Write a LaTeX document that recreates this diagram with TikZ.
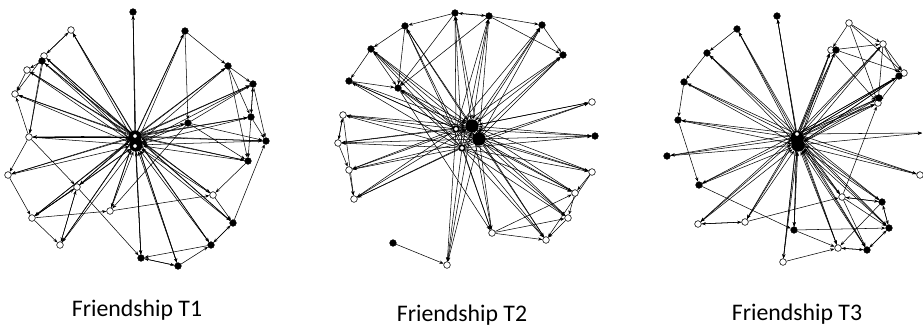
\documentclass[tikz,border=0pt]{standalone}
\usepackage{fontspec}
\setmainfont{Carlito}
\usetikzlibrary{arrows.meta}

\pgfdeclarelayer{bg}
\pgfsetlayers{bg,main}

\tikzset{
  wnode/.style={circle, draw=black, fill=white, line width=0.5pt, inner sep=0pt, minimum size=2mm},
  bnode/.style={circle, draw=black, fill=black, inner sep=0pt, minimum size=2mm},
  hubw/.style={circle, draw=black, fill=white, line width=1.4pt, inner sep=0pt, minimum size=1.7mm},
  hubb/.style={circle, fill=black, inner sep=0pt, minimum size=4mm},
  lnk/.style={-{Stealth[length=3.6pt,width=2.7pt]}, line width=0.45pt},
  caption/.style={font=\fontsize{20.3}{24}\selectfont, anchor=base}
}

\begin{document}
\begin{tikzpicture}[x=0.03cm, y=-0.03cm]
	\useasboundingbox (0,0) rectangle (923,326);

	% ---- friendship T1 ----
	\node[bnode] (t1top) at (133,12) {};
	\node[wnode] (t1a) at (71,30) {};
	\node[wnode] (t1b) at (44,56) {};
	\node[bnode] (t1c) at (42,61) {};
	\node[wnode] (t1d) at (27,70) {};
	\node[wnode] (t1e) at (15,94) {};
	\node[wnode] (t1f) at (29,137) {};
	\node[wnode] (t1g) at (8,175) {};
	\node[wnode] (t1h) at (77,187) {};
	\node[wnode] (t1i) at (32,218) {};
	\node[wnode] (t1j) at (60,245) {};
	\node[wnode] (t1k) at (110,211) {};
	\node[bnode] (t1l) at (141,258) {};
	\node[bnode] (t1m) at (178,266) {};
	\node[bnode] (t1n) at (211,245) {};
	\node[bnode] (t1o) at (233,223) {};
	\node[wnode] (t1p) at (213,195) {};
	\node[bnode] (t1q) at (248,161) {};
	\node[bnode] (t1r) at (266,141) {};
	\node[bnode] (t1s) at (251,117) {};
	\node[bnode] (t1t) at (253,84) {};
	\node[bnode] (t1u) at (228,66) {};
	\node[bnode] (t1v) at (185,31) {};
	\node[bnode] (t1w) at (188,123) {};
	% hubs
	\node[hubb] (t1k1) at (135,137) {};
	\node[hubb] (t1k2) at (136,145) {};
	\node[hubw] (t1h1) at (135,136) {};
	\node[hubw] (t1h2) at (135,146) {};
	\begin{pgfonlayer}{bg}
	\foreach \p in {top,a,b,c,d,e,f,g,h,i,j,k,l,m,n,o,p,q,r,s,t,u,v,w} {
		\draw[lnk] (t1h1) -- (t1\p);
		\draw[lnk] (t1\p) -- (t1k2);
		\draw[lnk] (t1k1) -- (t1\p);
	}
	\foreach \u/\v in {a/b, b/a, c/d, d/e, b/e, f/e, c/f, b/f, f/g, f/h, g/i, h/i, i/j, h/j, i/k,
		k/p, h/l, l/m, m/l, n/l, m/n, n/o, o/n, o/r, q/p, v/u, v/w, u/t, u/q, t/r, s/r, u/s,
		t/s, s/t, w/r, w/q, w/t, s/q, w/k, i/h, j/h, p/o}
		\draw[lnk] (t1\u) -- (t1\v);
	\end{pgfonlayer}

	% ---- friendship T2 ----
	\node[bnode] (t2a) at (455,13) {};
	\node[bnode] (t2b) at (489,16) {};
	\node[bnode] (t2c) at (542,25) {};
	\node[bnode] (t2d) at (563,55) {};
	\node[bnode] (t2e) at (405,26) {};
	\node[bnode] (t2f) at (371,49) {};
	\node[bnode] (t2g) at (349,81) {};
	\node[bnode] (t2h) at (398,88) {};
	\node[wnode] (t2i) at (592,102) {};
	\node[bnode] (t2j) at (595,136) {};
	\node[wnode] (t2k) at (592,172) {};
	\node[wnode] (t2l) at (575,193) {};
	\node[wnode] (t2m) at (568,218) {};
	\node[wnode] (t2n) at (546,240) {};
	\node[wnode] (t2o) at (492,233) {};
	\node[wnode] (t2p) at (447,265) {};
	\node[bnode] (t2q) at (393,243) {};
	\node[wnode] (t2r) at (354,199) {};
	\node[wnode] (t2s) at (349,170) {};
	\node[wnode] (t2t) at (338,143) {};
	\node[wnode] (t2u) at (343,115) {};
	% hubs
	\node[hubb] (t2k1) at (472,126) {};
	\node[hubb] (t2k2) at (479,139) {};
	\node[hubw] (t2h1) at (456,129) {};
	\node[hubw] (t2h2) at (462,148) {};
	\begin{pgfonlayer}{bg}
	\foreach \p in {a,b,c,d,e,f,g,h,i,j,k,l,m,n,o,p,r,s,t,u} {
		\draw[lnk] (t2h1) -- (t2\p);
		\draw[lnk] (t2\p) -- (t2k1);
		\draw[lnk] (t2h2) -- (t2\p);
		\draw[lnk] (t2k2) -- (t2\p);
	}
	\foreach \u/\v in {a/b, b/a, a/e, b/c, c/d, b/d, e/f, f/g, f/h, g/h, e/h, a/h, b/h,
		u/t, t/u, t/s, s/r, u/r, k/l, k/n, l/m, m/n, o/n, o/l, o/m, q/p, h/o}
		\draw[lnk] (t2\u) -- (t2\v);
	\end{pgfonlayer}

	% ---- friendship T3 ----
	\node[bnode] (t3a) at (777,16) {};
	\node[bnode] (t3b) at (737,29) {};
	\node[bnode] (t3c) at (707,53) {};
	\node[bnode] (t3d) at (684,82) {};
	\node[bnode] (t3e) at (678,120) {};
	\node[bnode] (t3f) at (667,156) {};
	\node[bnode] (t3g) at (699,185) {};
	\node[wnode] (t3h) at (698,224) {};
	\node[wnode] (t3i) at (745,222) {};
	\node[bnode] (t3j) at (794,230) {};
	\node[wnode] (t3k) at (783,262) {};
	\node[wnode] (t3l) at (838,248) {};
	\node[bnode] (t3m) at (867,250) {};
	\node[bnode] (t3n) at (889,228) {};
	\node[bnode] (t3o) at (882,202) {};
	\node[wnode] (t3p) at (842,197) {};
	\node[wnode] (t3q) at (920,175) {};
	\coordinate (t3r) at (922,133);
	\node[wnode] (t3s) at (878,103) {};
	\node[wnode] (t3t) at (904,73) {};
	\node[wnode] (t3u) at (883,44) {};
	\node[wnode] (t3v) at (849,23) {};
	\node[wnode] (t3w) at (831,50) {};
	\node[bnode] (t3x) at (836,50) {};
	\node[bnode] (t3y) at (899,76) {};
	\node[bnode] (t3z) at (879,98) {};
	% hub
	\node[hubb] (t3k1) at (798,145) {};
	\node[hubb] (t3k2) at (797,138) {};
	\node[hubw] (t3h1) at (797,134) {};
	\begin{pgfonlayer}{bg}
	\foreach \p in {a,b,c,d,e,f,g,h,i,j,k,l,m,n,o,p,q,s,t,u,w,x,y,z} {
		\draw[lnk] (t3h1) -- (t3\p);
		\draw[lnk] (t3\p) -- (t3k1);
		\draw[lnk] (t3k2) -- (t3\p);
	}
	\draw[lnk] (t3k1) -- (t3r);
	\draw[lnk] (t3h1) -- (t3r);
	\foreach \u/\v in {b/c, c/d, d/e, e/g, g/j, h/i, i/h, i/p, j/n, j/l, k/l, p/o, o/p, p/n,
		p/m, o/n, n/o, n/m, m/n, l/m, m/l, o/l, p/s, v/u, v/w, v/t, v/s, w/u, x/t, u/t, u/s,
		w/s, y/s, u/y}
		\draw[lnk] (t3\u) -- (t3\v);
	\end{pgfonlayer}

	% captions
	\node[caption] (cap1) at (137,316) {Friendship T1};
	\node[caption] (cap2) at (462,321) {Friendship T2};
	\node[caption] (cap3) at (797,320) {Friendship T3};
\end{tikzpicture}
\end{document}
